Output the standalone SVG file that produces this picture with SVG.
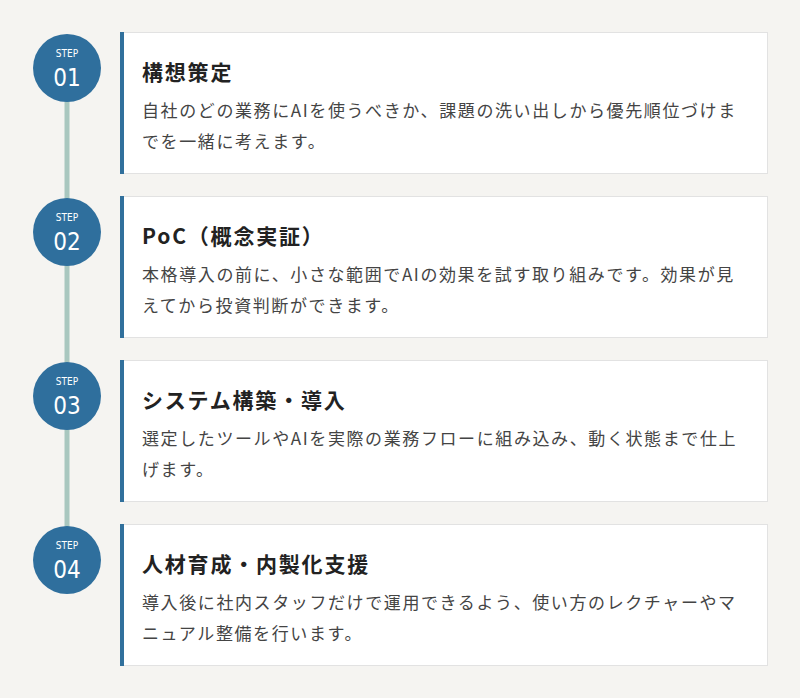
<svg xmlns="http://www.w3.org/2000/svg" width="800" height="698" viewBox="0 0 800 698">
<style>
.card{fill:#ffffff;stroke:#e2e2e2;stroke-width:1}
.bar{fill:#31709c}
.circ{fill:#2f6f9d}
.step{font-family:"DejaVu Sans Condensed","DejaVu Sans",sans-serif;font-stretch:condensed;font-size:10px;fill:#ffffff;text-anchor:middle}
.num{font-family:"DejaVu Sans Condensed","DejaVu Sans",sans-serif;font-stretch:condensed;font-size:24px;fill:#ffffff;text-anchor:middle}
.title{font-family:"Noto Sans CJK JP",sans-serif;font-size:21px;font-weight:600;fill:#222222;letter-spacing:1.8px}
.body{font-family:"Noto Sans CJK JP",sans-serif;font-size:17px;fill:#444444;letter-spacing:1.6px}
</style>
<rect width="800" height="698" fill="#f5f4f1"/>
<g id="connectors">
<line x1="67" y1="68" x2="67" y2="560" stroke="#a9c7bf" stroke-width="5"/>
</g>
<g id="step1">
<rect class="card" x="120.5" y="32.5" width="647" height="141"/>
<rect class="bar" x="120" y="32" width="4" height="142"/>
<circle class="circ" cx="67" cy="68" r="34"/>
<text class="step" x="67" y="57">STEP</text>
<text class="num" x="67" y="86">01</text>
<text class="title" x="142" y="80">構想策定</text>
<text class="body" x="142" y="117">自社のどの業務にAIを使うべきか、課題の洗い出しから優先順位づけま</text>
<text class="body" x="142" y="148">でを一緒に考えます。</text>
</g>
<g id="step2">
<rect class="card" x="120.5" y="196.5" width="647" height="141"/>
<rect class="bar" x="120" y="196" width="4" height="142"/>
<circle class="circ" cx="67" cy="232" r="34"/>
<text class="step" x="67" y="221">STEP</text>
<text class="num" x="67" y="250">02</text>
<text class="title" x="142" y="244">PoC（概念実証）</text>
<text class="body" x="142" y="281">本格導入の前に、小さな範囲でAIの効果を試す取り組みです。効果が見</text>
<text class="body" x="142" y="312">えてから投資判断ができます。</text>
</g>
<g id="step3">
<rect class="card" x="120.5" y="360.5" width="647" height="141"/>
<rect class="bar" x="120" y="360" width="4" height="142"/>
<circle class="circ" cx="67" cy="396" r="34"/>
<text class="step" x="67" y="385">STEP</text>
<text class="num" x="67" y="414">03</text>
<text class="title" x="142" y="408">システム構築・導入</text>
<text class="body" x="142" y="445">選定したツールやAIを実際の業務フローに組み込み、動く状態まで仕上</text>
<text class="body" x="142" y="476">げます。</text>
</g>
<g id="step4">
<rect class="card" x="120.5" y="524.5" width="647" height="141"/>
<rect class="bar" x="120" y="524" width="4" height="142"/>
<circle class="circ" cx="67" cy="560" r="34"/>
<text class="step" x="67" y="549">STEP</text>
<text class="num" x="67" y="578">04</text>
<text class="title" x="142" y="572">人材育成・内製化支援</text>
<text class="body" x="142" y="609">導入後に社内スタッフだけで運用できるよう、使い方のレクチャーやマ</text>
<text class="body" x="142" y="640">ニュアル整備を行います。</text>
</g>
</svg>
